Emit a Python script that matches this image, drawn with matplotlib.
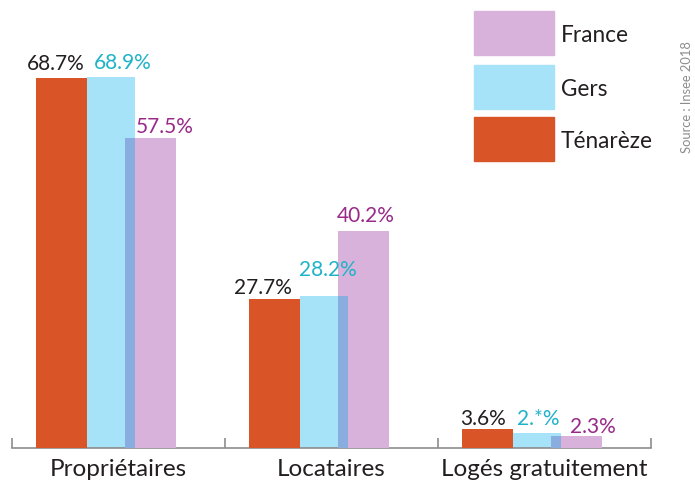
import matplotlib
matplotlib.use("Agg")
import matplotlib.pyplot as plt
from matplotlib.patches import Rectangle

plt.rcParams['font.family'] = ['Lato', 'DejaVu Sans']

# data
categories = ["Propriétaires", "Locataires", "Logés gratuitement"]
tenareze = [68.7, 27.7, 3.6]
gers = [68.9, 28.2, 2.8]
france = [57.5, 40.2, 2.3]
tenareze_lbl = ["68.7%", "27.7%", "3.6%"]
gers_lbl = ["68.9%", "28.2%", "2.*%"]
france_lbl = ["57.5%", "40.2%", "2.3%"]

# colours
c_ten = "#d95427"
c_gers = "#a6e3f8"
c_fr = "#d8b2da"
c_over = "#8aaddf"
t_ten = "#231f20"
t_gers = "#1fb3c8"
t_fr = "#992a88"

W, H = 695, 482
fig = plt.figure(figsize=(W / 100, H / 100), dpi=100)
ax = fig.add_axes([12 / W, 34 / H, 639 / W, 448 / H])
px_per_pct = 5.39
ax.set_xlim(0, 3)
ax.set_ylim(0, 448 / px_per_pct)

gw = 213.0  # pixels per group
w_ten, w_gers, w_fr = 51 / gw, 48 / gw, 51 / gw
o_ten, o_gers, o_fr = -83 / gw, -32 / gw, 6.5 / gw

centres = [0.5, 1.5, 2.5]
x_ten = [c + o_ten for c in centres]
x_gers = [c + o_gers for c in centres]
x_fr = [c + o_fr for c in centres]

ax.bar(x_gers, gers, width=w_gers, align='edge', color=c_gers, zorder=2)
ax.bar(x_fr, france, width=w_fr, align='edge', color=c_fr, zorder=3)
# overlap between Gers and France
ov_w = (o_gers + w_gers) - o_fr
ax.bar(x_fr, [min(g, f) for g, f in zip(gers, france)], width=ov_w,
       align='edge', color=c_over, zorder=4)
ax.bar(x_ten, tenareze, width=w_ten, align='edge', color=c_ten, zorder=5)

# value labels (pixel offsets)
def px(v):
    return v / px_per_pct

lab_kw = dict(ha='center', va='baseline', fontsize=15, zorder=6)
ten_dx = [-5, -11, -4]
gers_dx = [12, 4, 2]
fr_dx = [14, 2, 16]
gers_dy = [8, 20, 8]
ten_dy = [8, 5, 4]
fr_dy = [5, 9, 3]
for i in range(3):
    ax.text(x_ten[i] + w_ten / 2 + ten_dx[i] / gw, tenareze[i] + px(ten_dy[i]),
            tenareze_lbl[i], color=t_ten, **lab_kw)
    ax.text(x_gers[i] + w_gers / 2 + gers_dx[i] / gw, gers[i] + px(gers_dy[i]),
            gers_lbl[i], color=t_gers, **lab_kw)
    ax.text(x_fr[i] + w_fr / 2 + fr_dx[i] / gw, france[i] + px(fr_dy[i]),
            france_lbl[i], color=t_fr, **lab_kw)

# axes styling
for s in ['top', 'left', 'right']:
    ax.spines[s].set_visible(False)
ax.spines['bottom'].set_color('#8c8c8c')
ax.spines['bottom'].set_linewidth(1.2)
ax.set_yticks([])
ax.set_xticks([0, 1, 2, 3])
ax.set_xticklabels([])
ax.tick_params(axis='x', which='major', direction='in', length=7.2,
               width=1.2, color='#8c8c8c')
ax.set_xticks(centres, minor=True)
ax.set_xticklabels(categories, minor=True, fontsize=17.5, color='#231f20')
ax.tick_params(axis='x', which='minor', length=0, pad=8)
ax.patch.set_visible(False)

# legend
leg = [("France", c_fr, 11), ("Gers", c_gers, 65), ("Ténarèze", c_ten, 117)]
for name, col, top in leg:
    fig.patches.append(Rectangle((474 / W, 1 - (top + 44) / H), 80 / W, 44 / H,
                                 transform=fig.transFigure, color=col))
    fig.text(561 / W, 1 - (top + 24) / H, name, fontsize=16.3, color='#231f20',
             va='center', ha='left')

fig.text(687 / W, 1 - 97 / H, "Source : Insee 2018", rotation=90, fontsize=9.3,
         color='#8c8c8c', ha='center', va='center')

fig.savefig("out.png", dpi=100)
